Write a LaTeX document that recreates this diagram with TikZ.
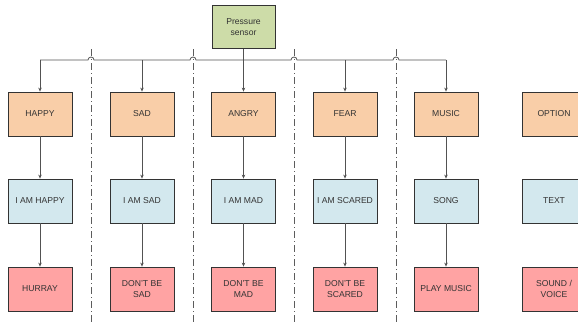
\documentclass[tikz,border=0pt]{standalone}
\usepackage{fontspec}
\setmainfont{Liberation Sans}
\usetikzlibrary{arrows.meta}

\definecolor{moodfill}{HTML}{F9CEA8}
\definecolor{replyfill}{HTML}{D3E8EE}
\definecolor{actfill}{HTML}{FFA3A3}
\definecolor{sensfill}{HTML}{CDDCA8}
\definecolor{edge}{HTML}{333333}

\tikzset{
	box/.style={draw=edge, line width=0.8pt, minimum width=64pt, minimum height=44pt,
		inner sep=1pt, align=center, text=edge, font=\fontsize{8.6}{11}\selectfont},
	mood/.style={box, fill=moodfill},
	reply/.style={box, fill=replyfill},
	act/.style={box, fill=actfill},
	arr/.style={draw=edge!85, line width=0.8pt, -{Stealth[length=4pt,width=3.5pt]}},
	divider/.style={draw=edge!80, line width=0.8pt, dash pattern=on 7pt off 3pt on 1pt off 3pt}
}

\begin{document}
\begin{tikzpicture}[x=1pt, y=-1pt]

	\useasboundingbox (0,0) rectangle (578,324);

	\node[box, fill=sensfill, minimum width=63pt, minimum height=43pt] (sensor) at (243.5,27) {Pressure\\sensor};

	\node[mood] (happy) at (40,114) {HAPPY};
	\node[mood] (sad) at (142,114) {SAD};
	\node[mood] (angry) at (243.5,114) {ANGRY};
	\node[mood] (fear) at (345,114) {FEAR};
	\node[mood] (music) at (446,114) {MUSIC};
	\node[mood] (option) at (554,114) {OPTION};

	\node[reply] (iamhappy) at (40,201) {I AM HAPPY};
	\node[reply] (iamsad) at (142,201) {I AM SAD};
	\node[reply] (iammad) at (243.5,201) {I AM MAD};
	\node[reply] (iamscared) at (345,201) {I AM SCARED};
	\node[reply] (song) at (446,201) {SONG};
	\node[reply] (text) at (554,201) {TEXT};

	\node[act] (hurray) at (40,289) {HURRAY};
	\node[act] (dontsad) at (142,289) {DON'T BE\\SAD};
	\node[act] (dontmad) at (243.5,289) {DON'T BE\\MAD};
	\node[act] (dontscared) at (345,289) {DON'T BE\\SCARED};
	\node[act] (playmusic) at (446,289) {PLAY MUSIC};
	\node[act] (sound) at (554,289) {SOUND /\\VOICE};

	% dividers between the columns
	\draw[divider] (91,49) -- (91,324);
	\draw[divider] (193,49) -- (193,324);
	\draw[divider] (294,49) -- (294,324);
	\draw[divider] (396,49) -- (396,324);

	% bus from the sensor, hopping over the dividers
	\coordinate (b1) at (40,60);
	\coordinate (b2) at (142,60);
	\coordinate (b4) at (345,60);
	\coordinate (b5) at (446,60);
	\draw[draw=edge!85, line width=0.8pt] (b1) -- (88,60) arc[start angle=180, end angle=360, radius=3]
		-- (190,60) arc[start angle=180, end angle=360, radius=3]
		-- (291,60) arc[start angle=180, end angle=360, radius=3]
		-- (393,60) arc[start angle=180, end angle=360, radius=3] -- (b5);

	\draw[arr] (sensor) -- (angry);
	\draw[arr] (b1) -- (happy);
	\draw[arr] (b2) -- (sad);
	\draw[arr] (b4) -- (fear);
	\draw[arr] (b5) -- (music);

	\draw[arr] (happy) -- (iamhappy);
	\draw[arr] (sad) -- (iamsad);
	\draw[arr] (angry) -- (iammad);
	\draw[arr] (fear) -- (iamscared);
	\draw[arr] (music) -- (song);

	\draw[arr] (iamhappy) -- (hurray);
	\draw[arr] (iamsad) -- (dontsad);
	\draw[arr] (iammad) -- (dontmad);
	\draw[arr] (iamscared) -- (dontscared);
	\draw[arr] (song) -- (playmusic);

\end{tikzpicture}
\end{document}
